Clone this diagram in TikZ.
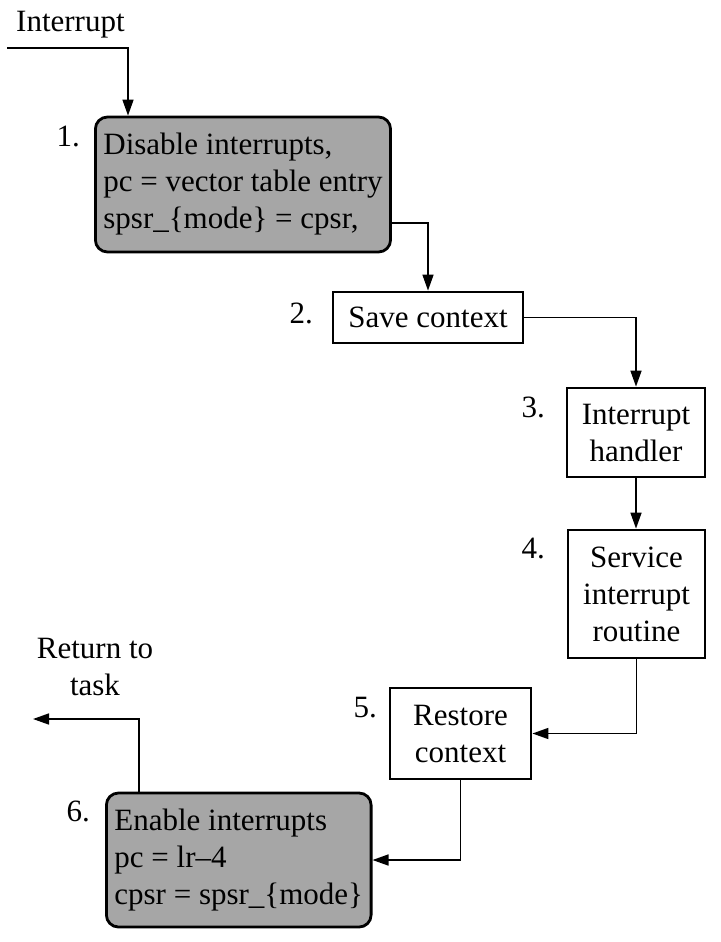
\documentclass[tikz,border=0pt]{standalone}
\usepackage{fontspec}
\setmainfont{Liberation Serif}
\usetikzlibrary{arrows.meta,calc}
\definecolor{boxgray}{RGB}{166,166,166}
\begin{document}
\begin{tikzpicture}[x=1pt,y=-1pt,
  font=\fontsize{31}{37}\selectfont,
  box/.style={draw,line width=2.8pt,inner sep=0pt,align=center},
  graybox/.style={draw,line width=2.8pt,fill=boxgray,rounded corners=12pt,align=left,inner ysep=0pt,inner xsep=8pt},
  num/.style={anchor=base east,inner sep=0pt},
  lbl/.style={inner sep=0pt,align=center},
  conn/.style={line width=1.6pt},
  arr/.style={conn,-{Triangle[length=16pt,width=11pt]}}]
\useasboundingbox (0,0) rectangle (720,942);

% boxes
\node[graybox,anchor=west,minimum height=135pt] (b1) at (94,184.5)
  {Disable interrupts,\\pc = vector table entry\\spsr\_\{mode\} = cpsr,};
\node[box,minimum width=190pt,minimum height=51pt] (b2) at (428,317.5) {Save context};
\node[box,minimum width=138pt,minimum height=89pt] (b3) at (636,432.5) {Interrupt\\handler};
\node[box,minimum width=137pt,minimum height=128pt] (b4) at (636.5,594) {Service\\interrupt\\routine};
\node[box,minimum width=141pt,minimum height=91pt] (b5) at (460.5,733.5) {Restore\\context};
\node[graybox,anchor=west,minimum height=134pt,minimum width=263pt] (b6) at (105,860)
  {Enable interrupts\\pc = lr–4\\cpsr = spsr\_\{mode\}};

% step numbers
\node[num] (n1) at (80,146) {1.};
\node[num] (n2) at (313,323) {2.};
\node[num] (n3) at (545,417) {3.};
\node[num] (n4) at (545,558) {4.};
\node[num] (n5) at (377,717) {5.};
\node[num] (n6) at (90,821) {6.};

% outside labels
\node[anchor=base west,inner sep=0pt] (tin) at (16,32) {Interrupt};
\node[lbl,anchor=north] (tret) at (95,638) {Return to\\task};

% connectors
\coordinate (in0) at (7,48);
\coordinate (in1) at (128,48);
\draw[arr] (in0) -- (in1) -- (in1 |- b1.north);
\draw[arr] ($(b1.east)+(0,38.5)$) -| (b2.north);
\draw[arr] (b2.east) -| (b3.north);
\draw[arr] (b3.south) -- (b3.south |- b4.north);
\draw[arr] (b4.south) |- (b5.east);
\draw[arr] (b5.south) |- (b6.east);
\coordinate (ret) at (33,719);
\draw[arr] ($(b6.north west)+(34,0)$) |- (ret);
\end{tikzpicture}
\end{document}
